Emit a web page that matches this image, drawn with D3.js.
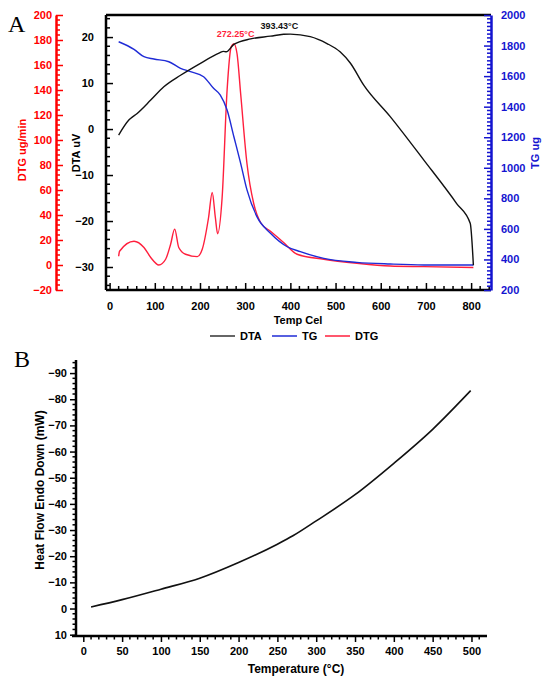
<!DOCTYPE html>
<html><head><meta charset="utf-8">
<script src="https://cdn.jsdelivr.net/npm/d3@7"></script>
<style>body{margin:0;background:#fff}svg{font-family:Arial,"Liberation Sans",sans-serif}</style>
</head><body>
<svg id="c" width="550" height="686"></svg>
<script>
// ---- Panel A data ----
const dtaT = [20,43,61,91,120,157,201,242,252,258,275,312,356,385,400,444,481,510,533,562,621,695,768,798,805];
const dtaV = [-1.3,2.0,3.4,6.3,9.2,11.7,14.3,16.5,16.9,16.8,18.4,19.6,20.2,20.6,20.65,20.1,18.6,16.8,14.3,9.6,2.7,-6.7,-16.2,-20.5,-29.6];
const tgT = [20,54,76,98,131,157,179,208,230,245,260,275,290,304,326,356,393,422,474,547,621,695,805];
const tgV = [1825,1775,1727,1712,1694,1651,1629,1596,1520,1476,1378,1203,1029,855,680,571,483,451,407,381,370,364,364];
const dtgT = [20,22,54,76,91,109,124,135,144,153,168,194,205,219,227,234,239,249,260,269,275,282,290,304,319,334,356,385,415,474,547,621,695,805];
const dtgV = [7,11,19,14,6,0,4.6,16.6,28.7,14,8.6,6.7,12.6,38,58,38,25,54,140,174.5,177,169,137,81,49,34,27,18,8.6,4.6,1.4,-0.8,-1.3,-2];
const xTicksA = [0,100,200,300,400,500,600,700,800];
const dtaTicks = [-30,-20,-10,0,10,20];
const tgTicks = [200,400,600,800,1000,1200,1400,1600,1800,2000];
const dtgTicks = [-20,0,20,40,60,80,100,120,140,160,180,200];
const legendNames = ["DTA","TG","DTG"];
const peakLabels = [{t:272.25, text:"272.25°C", series:"DTG"},{t:393.43, text:"393.43°C", series:"DTA"}];
// ---- Panel B data ----
const hfT = [10,50,100,150,200,250,270,300,350,400,450,499];
const hfV = [-0.6,-3.4,-7.4,-11.6,-17.6,-24.6,-27.8,-33.5,-43.5,-55.5,-68.5,-83.3];
const xTicksB = [0,50,100,150,200,250,300,350,400,450,500];
const yTicksB = [10,0,-10,-20,-30,-40,-50,-60,-70,-80,-90];

const BLUE = "#1f2bd6", RED = "#ff1f3d", AXRED = "#ff0000", AXBLUE = "#1414d0";
const svg = d3.select("#c");

// ===== Panel A =====
const A = {l:106, r:491, t:15, b:290};
const x = d3.scaleLinear().domain([-8, 844]).range([A.l, A.r]);
const yDTA = d3.scaleLinear().domain([-35, 24.8]).range([A.b, A.t]);
const yTG = d3.scaleLinear().domain([200, 2000]).range([A.b, A.t]);
const yDTG = d3.scaleLinear().domain([-20, 200]).range([A.b, A.t]);

function styleAxis(g, color, size){
  g.selectAll("path.domain").attr("stroke", color).attr("stroke-width", 2.5);
  g.selectAll(".tick line").attr("stroke", color).attr("stroke-width", 1.5);
  g.selectAll(".tick text").attr("fill", color).attr("font-weight","bold").attr("font-size", size||11);
}
function minor(g, ticks, scale, orient, len, color){
  ticks.forEach(v=>{
    const p = scale(v);
    if(orient==="x") g.append("line").attr("x1",p).attr("x2",p).attr("y1",0).attr("y2",len).attr("stroke",color).attr("stroke-width",1.5);
    else g.append("line").attr("y1",p).attr("y2",p).attr("x1",0).attr("x2",len).attr("stroke",color).attr("stroke-width",1.5);
  });
}

// top border
svg.append("line").attr("x1",A.l).attr("x2",A.r).attr("y1",A.t).attr("y2",A.t).attr("stroke","#000").attr("stroke-width",2.5);

// X axis A (ticks inward)
const gx = svg.append("g").attr("transform",`translate(0,${A.b})`)
  .call(d3.axisBottom(x).tickValues(xTicksA).tickSize(-7).tickPadding(12).tickSizeOuter(0));
styleAxis(gx, "#000");
gx.select("path.domain").attr("d", `M${A.l},0H${A.r}`);
minor(gx, d3.range(0,841,20).filter(v=>v%100!==0), x, "x", -4, "#000");

// DTA axis
const gy1 = svg.append("g").attr("transform",`translate(${A.l},0)`)
  .call(d3.axisLeft(yDTA).tickValues(dtaTicks).tickSize(-7).tickPadding(12).tickSizeOuter(0));
styleAxis(gy1, "#000");
gy1.select("path.domain").attr("d", `M0,${A.t}V${A.b}`);
minor(gy1, d3.range(-34,25,2).filter(v=>v%10!==0), yDTA, "y", 4, "#000");

// TG axis right
const gy2 = svg.append("g").attr("transform",`translate(${A.r},0)`)
  .call(d3.axisRight(yTG).tickValues(tgTicks).tickFormat(d3.format("d")).tickSize(-7).tickPadding(10).tickSizeOuter(0));
styleAxis(gy2, AXBLUE);
minor(gy2, d3.range(225,2000,25).filter(v=>v%200!==0), yTG, "y", -4, AXBLUE);

// DTG axis (offset left)
const gy3 = svg.append("g").attr("transform",`translate(56,0)`)
  .call(d3.axisLeft(yDTG).tickValues(dtgTicks).tickSize(-7).tickPadding(4).tickSizeOuter(0));
styleAxis(gy3, AXRED);
minor(gy3, d3.range(-16,200,4).filter(v=>v%20!==0), yDTG, "y", 4, AXRED);

// axis titles
svg.append("text").attr("transform","translate(80,153) rotate(-90)").attr("text-anchor","middle")
  .attr("font-weight","bold").attr("font-size",11).text("DTA uV");
svg.append("text").attr("transform","translate(26,150) rotate(-90)").attr("text-anchor","middle")
  .attr("font-weight","bold").attr("font-size",11).attr("fill",AXRED).text("DTG ug/min");
svg.append("text").attr("transform","translate(539,153) rotate(-90)").attr("text-anchor","middle")
  .attr("font-weight","bold").attr("font-size",11).attr("fill",AXBLUE).text("TG ug");
svg.append("text").attr("x",298).attr("y",324).attr("text-anchor","middle")
  .attr("font-weight","bold").attr("font-size",11).text("Temp Cel");
svg.append("text").attr("x",8).attr("y",32).attr("font-family","'Liberation Serif','DejaVu Serif',serif")
  .attr("font-size",24).text("A");

// lines
const mk = (ts,vs)=>ts.map((t,i)=>[t,vs[i]]);
const lineDTA = d3.line().x(d=>x(d[0])).y(d=>yDTA(d[1])).curve(d3.curveMonotoneX);
const lineTG = d3.line().x(d=>x(d[0])).y(d=>yTG(d[1])).curve(d3.curveMonotoneX);
const lineDTG = d3.line().x(d=>x(d[0])).y(d=>yDTG(d[1])).curve(d3.curveMonotoneX);
svg.append("path").attr("d",lineDTG(mk(dtgT,dtgV))).attr("fill","none").attr("stroke",RED).attr("stroke-width",1.4);
svg.append("path").attr("d",lineTG(mk(tgT,tgV))).attr("fill","none").attr("stroke",BLUE).attr("stroke-width",1.4);
svg.append("path").attr("d",lineDTA(mk(dtaT,dtaV))).attr("fill","none").attr("stroke","#111").attr("stroke-width",1.4);

// peak labels
svg.append("text").attr("x",x(peakLabels[0].t)+3).attr("y",37).attr("text-anchor","middle")
  .attr("font-weight","bold").attr("font-size",9).attr("fill",RED).text(peakLabels[0].text);
svg.append("text").attr("x",x(peakLabels[1].t)-8).attr("y",29).attr("text-anchor","middle")
  .attr("font-weight","bold").attr("font-size",9).attr("fill","#111").text(peakLabels[1].text);

// legend
const legColors = ["#333", BLUE, RED];
const legX = [210, 272, 325];
legendNames.forEach((n,i)=>{
  svg.append("line").attr("x1",legX[i]).attr("x2",legX[i]+25).attr("y1",336).attr("y2",336)
    .attr("stroke",legColors[i]).attr("stroke-width",1.5);
  svg.append("text").attr("x",legX[i]+30).attr("y",340).attr("font-weight","bold").attr("font-size",11).text(n);
});

// ===== Panel B =====
const B = {l:76, r:487, t:360, b:636};
const xb = d3.scaleLinear().domain([-9.4, 520]).range([B.l, B.r]);
const yb = d3.scaleLinear().domain([10.5, -95]).range([B.b, B.t]);

const gxb = svg.append("g").attr("transform",`translate(0,${B.b})`)
  .call(d3.axisBottom(xb).tickValues(xTicksB).tickSize(6).tickPadding(5).tickSizeOuter(0));
styleAxis(gxb, "#000", 11);
gxb.select("path.domain").attr("d", `M${B.l-4},0H${B.r}`);
minor(gxb, d3.range(0,520,10).filter(v=>v%50!==0), xb, "x", 3.5, "#000");

const gyb = svg.append("g").attr("transform",`translate(${B.l},0)`)
  .call(d3.axisLeft(yb).tickValues(yTicksB).tickSize(6).tickPadding(3).tickSizeOuter(0));
styleAxis(gyb, "#000", 11);
gyb.select("path.domain").attr("d", `M0,${B.t}V${B.b}`);
minor(gyb, d3.range(-94,11,2).filter(v=>v%10!==0), yb, "y", -3.5, "#000");

const lineB = d3.line().x(d=>xb(d[0])).y(d=>yb(d[1])).curve(d3.curveMonotoneX);
svg.append("path").attr("d",lineB(mk(hfT,hfV))).attr("fill","none").attr("stroke","#111").attr("stroke-width",1.6);

svg.append("text").attr("transform","translate(44,490) rotate(-90)").attr("text-anchor","middle")
  .attr("font-weight","bold").attr("font-size",12).text("Heat Flow Endo Down (mW)");
svg.append("text").attr("x",296).attr("y",673).attr("text-anchor","middle")
  .attr("font-weight","bold").attr("font-size",12).text("Temperature (°C)");
svg.append("text").attr("x",14).attr("y",367).attr("font-family","'Liberation Serif','DejaVu Serif',serif")
  .attr("font-size",24).text("B");
</script>
</body></html>
